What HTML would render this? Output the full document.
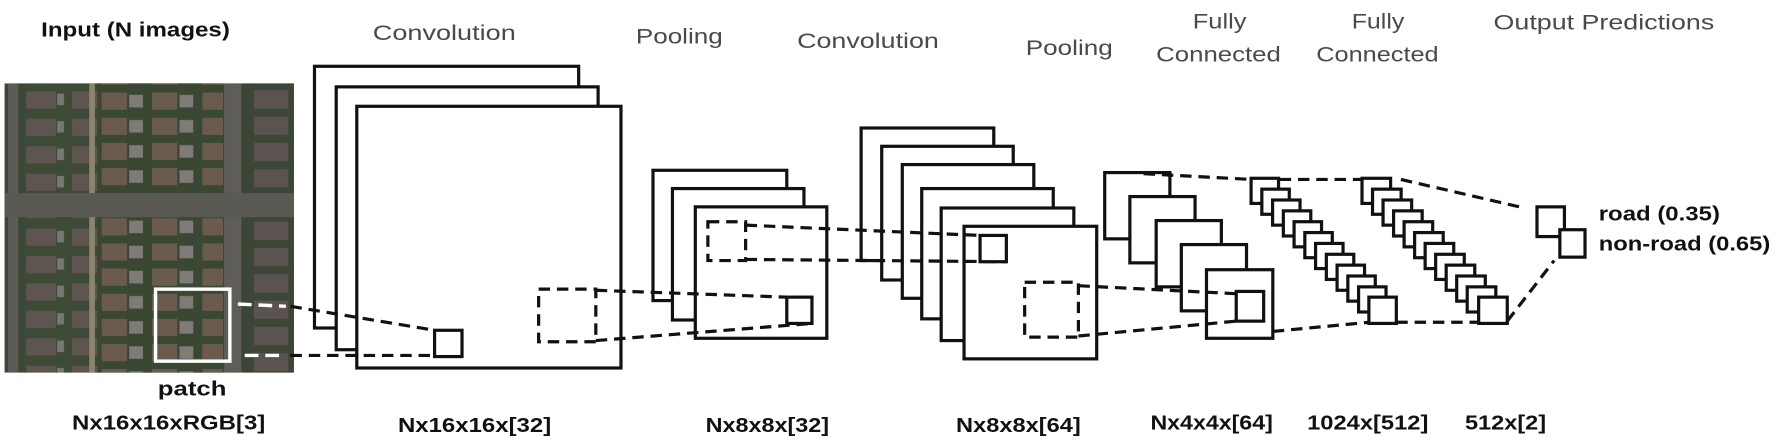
<!DOCTYPE html>
<html><head><meta charset="utf-8"><style>
html,body{margin:0;padding:0;background:#fff;}
svg{display:block;}
.h{font-family:"Liberation Sans",sans-serif;font-size:19px;fill:#4a4a4a;}
.b{font-family:"Liberation Sans",sans-serif;font-size:18px;font-weight:bold;fill:#111;}
.r{fill:#fff;stroke:#111;stroke-width:2.8;}
.d{fill:none;stroke:#111;stroke-width:2.8;stroke-dasharray:10 6;}
</style></head><body>
<svg width="1784" height="448" viewBox="0 0 1560 392" preserveAspectRatio="none" xmlns="http://www.w3.org/2000/svg">
<defs>
<pattern id="hA" width="40" height="24" patternUnits="userSpaceOnUse" x="20" y="76">
<rect width="40" height="24" fill="#3d4a35"/><rect x="3" y="4" width="26" height="15" fill="#5e5550"/><rect x="30" y="6" width="6" height="10" fill="#777"/>
</pattern>
<pattern id="hB" width="44" height="22" patternUnits="userSpaceOnUse" x="85" y="78">
<rect width="44" height="22" fill="#3a4733"/><rect x="4" y="3" width="22" height="15" fill="#6b5b4e"/><rect x="28" y="5" width="12" height="11" fill="#7e7b78"/>
</pattern>
<pattern id="hC" width="42" height="23" patternUnits="userSpaceOnUse" x="214" y="76">
<rect width="42" height="23" fill="#3b4636"/><rect x="8" y="3" width="30" height="16" fill="#5a534f"/>
</pattern>
</defs>
<!-- satellite image -->
<rect x="4" y="73" width="253" height="253" fill="#3c4536"/>
<rect x="20" y="73" width="175" height="96" fill="url(#hA)"/>
<rect x="85" y="73" width="110" height="96" fill="url(#hB)"/>
<rect x="20" y="190" width="175" height="136" fill="url(#hA)"/>
<rect x="85" y="190" width="110" height="136" fill="url(#hB)"/>
<rect x="214" y="73" width="43" height="96" fill="url(#hC)"/>
<rect x="214" y="190" width="43" height="136" fill="url(#hC)"/>
<rect x="7" y="73" width="9" height="253" fill="#5d5b57"/>
<rect x="196" y="73" width="15" height="253" fill="#5f5d58"/>
<rect x="4" y="169" width="253" height="21" fill="#5a5853"/>
<rect x="78" y="73" width="5" height="96" fill="#8a8470"/>
<rect x="78" y="190" width="5" height="136" fill="#8a8470"/>
<rect x="136" y="253" width="65" height="63" fill="none" stroke="#fff" stroke-width="3"/>
<!-- patch lines -->
<line x1="208" y1="266" x2="250" y2="268" stroke="#fff" stroke-width="3" stroke-dasharray="12 6"/>
<line x1="214" y1="311" x2="250" y2="311" stroke="#fff" stroke-width="3" stroke-dasharray="12 6"/>
<!-- conv1 -->
<rect class="r" x="275" y="58" width="231" height="229"/>
<rect class="r" x="294" y="76" width="229" height="230"/>
<rect class="r" x="312" y="93" width="231" height="229"/>
<line class="d" x1="254" y1="268" x2="380" y2="289"/>
<line class="d" x1="254" y1="311" x2="380" y2="311"/>
<rect class="r" x="380" y="289" width="24" height="23" fill="none"/>
<rect class="d" x="471" y="253" width="50" height="46"/>
<!-- pool1 -->
<rect class="r" x="571" y="149" width="117" height="114"/>
<rect class="r" x="588" y="165" width="115" height="115"/>
<rect class="r" x="608" y="181" width="115" height="115"/>
<line class="d" x1="521" y1="254" x2="688" y2="260"/>
<line class="d" x1="521" y1="298" x2="710" y2="283"/>
<rect class="r" x="688" y="260" width="22" height="23"/>
<rect class="d" x="619" y="194" width="33" height="34"/>
<!-- conv2 -->
<rect class="r" x="753" y="112" width="116" height="116"/>
<rect class="r" x="771" y="128" width="115" height="117"/>
<rect class="r" x="789" y="144" width="115" height="117"/>
<rect class="r" x="806" y="165" width="115" height="114"/>
<rect class="r" x="823" y="182" width="116" height="116"/>
<rect class="r" x="843" y="198" width="116" height="116"/>
<line class="d" x1="652" y1="197" x2="857" y2="206"/>
<line class="d" x1="652" y1="227" x2="880" y2="229"/>
<rect class="r" x="857" y="206" width="23" height="23"/>
<rect class="d" x="896" y="247" width="47" height="48"/>
<!-- pool2 -->
<rect class="r" x="966" y="151" width="57" height="58"/>
<rect class="r" x="988" y="172" width="57" height="58"/>
<rect class="r" x="1011" y="193" width="57" height="58"/>
<rect class="r" x="1033" y="214" width="57" height="58"/>
<rect class="r" x="1055" y="236" width="58" height="60"/>
<line class="d" x1="943" y1="250" x2="1081" y2="257"/>
<line class="d" x1="943" y1="294" x2="1081" y2="281"/>
<rect class="r" x="1081" y="255" width="24" height="26"/>
<line class="d" x1="1000" y1="152" x2="1094" y2="157"/>
<line class="d" x1="1113" y1="290" x2="1197" y2="282"/>
<!-- FC1 -->
<g>
<rect class="r" x="1094" y="156" width="24" height="22"/>
<rect class="r" x="1103.4" y="165.5" width="24" height="22"/>
<rect class="r" x="1112.8" y="175" width="24" height="22"/>
<rect class="r" x="1122.2" y="184.5" width="24" height="22"/>
<rect class="r" x="1131.6" y="194" width="24" height="22"/>
<rect class="r" x="1141" y="203.5" width="24" height="22"/>
<rect class="r" x="1150.4" y="213" width="24" height="22"/>
<rect class="r" x="1159.8" y="222.5" width="24" height="22"/>
<rect class="r" x="1169.2" y="232" width="24" height="22"/>
<rect class="r" x="1178.6" y="241.5" width="24" height="22"/>
<rect class="r" x="1188" y="251" width="24" height="22"/>
<rect class="r" x="1197" y="260" width="24" height="23"/>
</g>
<line class="d" x1="1119" y1="157" x2="1191" y2="157"/>
<line class="d" x1="1221" y1="282" x2="1294" y2="282"/>
<!-- FC2 -->
<g>
<rect class="r" x="1191" y="156" width="25" height="22"/>
<rect class="r" x="1200.2" y="165.5" width="25" height="22"/>
<rect class="r" x="1209.4" y="175" width="25" height="22"/>
<rect class="r" x="1218.6" y="184.5" width="25" height="22"/>
<rect class="r" x="1227.8" y="194" width="25" height="22"/>
<rect class="r" x="1237" y="203.5" width="25" height="22"/>
<rect class="r" x="1246.2" y="213" width="25" height="22"/>
<rect class="r" x="1255.4" y="222.5" width="25" height="22"/>
<rect class="r" x="1264.6" y="232" width="25" height="22"/>
<rect class="r" x="1273.8" y="241.5" width="25" height="22"/>
<rect class="r" x="1283" y="251" width="25" height="22"/>
<rect class="r" x="1293" y="260" width="25" height="23"/>
</g>
<line class="d" x1="1225" y1="157" x2="1333" y2="182" stroke-width="3.5"/>
<line class="d" x1="1318" y1="281" x2="1359" y2="228" stroke-width="3.5"/>
<!-- output -->
<rect class="r" x="1344" y="181" width="24" height="26"/>
<rect class="r" x="1364" y="201" width="22" height="24"/>
<!-- labels -->
<text class="b" x="36" y="32" font-size="20" textLength="165" lengthAdjust="spacingAndGlyphs">Input (N images)</text>
<text class="b" x="138" y="346" font-size="20" textLength="60" lengthAdjust="spacingAndGlyphs">patch</text>
<text class="b" x="63" y="376" textLength="169" lengthAdjust="spacingAndGlyphs">Nx16x16xRGB[3]</text>
<text class="h" x="326" y="35" textLength="125" lengthAdjust="spacingAndGlyphs">Convolution</text>
<text class="h" x="556" y="38" textLength="76" lengthAdjust="spacingAndGlyphs">Pooling</text>
<text class="h" x="697" y="42" textLength="124" lengthAdjust="spacingAndGlyphs">Convolution</text>
<text class="h" x="897" y="48" textLength="76" lengthAdjust="spacingAndGlyphs">Pooling</text>
<text class="h" x="1043" y="25" textLength="47" lengthAdjust="spacingAndGlyphs">Fully</text>
<text class="h" x="1011" y="54" textLength="109" lengthAdjust="spacingAndGlyphs">Connected</text>
<text class="h" x="1182" y="25" textLength="46" lengthAdjust="spacingAndGlyphs">Fully</text>
<text class="h" x="1151" y="54" textLength="107" lengthAdjust="spacingAndGlyphs">Connected</text>
<text class="h" x="1306" y="26" textLength="193" lengthAdjust="spacingAndGlyphs">Output Predictions</text>
<text class="b" x="1398" y="193" font-size="16" textLength="106" lengthAdjust="spacingAndGlyphs">road (0.35)</text>
<text class="b" x="1398" y="219" font-size="16" textLength="150" lengthAdjust="spacingAndGlyphs">non-road (0.65)</text>
<text class="b" x="348" y="378" textLength="134" lengthAdjust="spacingAndGlyphs">Nx16x16x[32]</text>
<text class="b" x="617" y="378" textLength="108" lengthAdjust="spacingAndGlyphs">Nx8x8x[32]</text>
<text class="b" x="836" y="378" textLength="109" lengthAdjust="spacingAndGlyphs">Nx8x8x[64]</text>
<text class="b" x="1006" y="376" textLength="107" lengthAdjust="spacingAndGlyphs">Nx4x4x[64]</text>
<text class="b" x="1143" y="376" textLength="106" lengthAdjust="spacingAndGlyphs">1024x[512]</text>
<text class="b" x="1281" y="376" textLength="71" lengthAdjust="spacingAndGlyphs">512x[2]</text>
</svg>
</body></html>
